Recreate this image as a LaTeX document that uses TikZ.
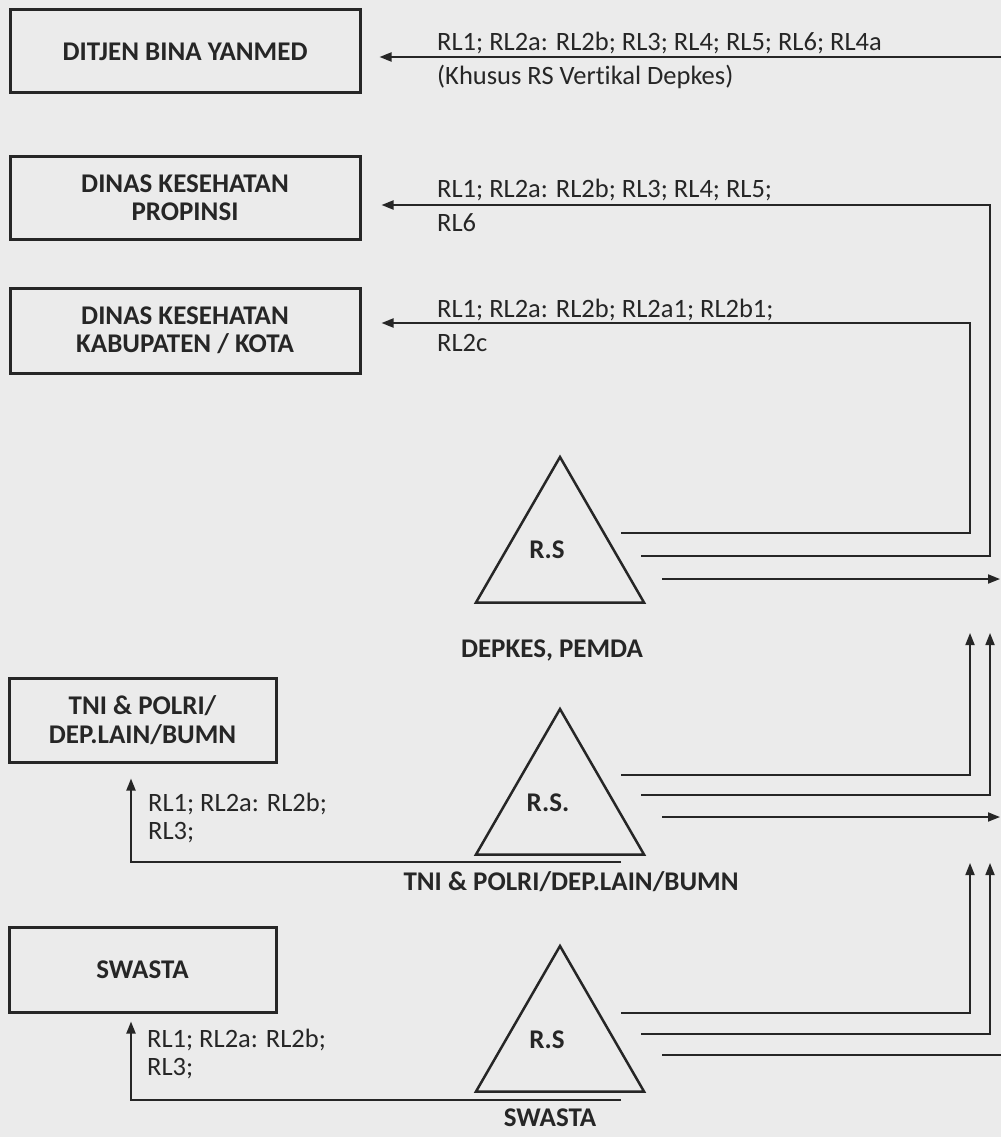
\documentclass[tikz,border=0pt]{standalone}
\usepackage{fontspec}
\setmainfont{Carlito}[Ligatures=NoCommon]
\usetikzlibrary{arrows.meta,shapes.geometric,calc}
\begin{document}
\begin{tikzpicture}[x=1pt,y=-1pt,
  orgbox/.style={draw=black!85, line width=3pt, inner sep=0pt, align=center,
    font=\bfseries\fontsize{27}{28.5}\selectfont, text=black!85},
  rstri/.style={draw=black!85, line width=2.5pt, regular polygon, regular polygon sides=3,
    inner sep=0pt, minimum size=194pt},
  conn/.style={draw=black!85, line width=1.8pt},
  arr/.style={conn, -{Triangle[length=12pt,width=9pt]}},
  rltext/.style={anchor=west, align=left, font=\fontsize{26.5}{34}\selectfont,
    text=black!85, inner sep=0pt},
  rltextb/.style={rltext, font=\fontsize{26.5}{28}\selectfont},
  lbl/.style={font=\bfseries\fontsize{27}{28}\selectfont, text=black!85, inner sep=0pt}
]
\fill[black!8] (0,0) rectangle (1001,1137);
\useasboundingbox (0,0) rectangle (1001,1137);

% boxes
\node[orgbox, minimum width=350pt, minimum height=83pt] (b1) at (185,51.5) {DITJEN BINA YANMED};
\node[orgbox, minimum width=350pt, minimum height=83pt] (b2) at (185,197.5) {DINAS KESEHATAN\\PROPINSI};
\node[orgbox, minimum width=350pt, minimum height=85pt] (b3) at (185,330.5) {DINAS KESEHATAN\\KABUPATEN / KOTA};
\node[orgbox, minimum width=267pt, minimum height=84pt] (b4) at (142.5,720) {TNI \& POLRI/\\DEP.LAIN/BUMN};
\node[orgbox, minimum width=267pt, minimum height=85pt] (b5) at (142.5,969.5) {SWASTA};

% triangles
\node[rstri] (t1) at (560,554) {};
\node[rstri] (t2) at (560,806) {};
\node[rstri] (t3) at (560,1043) {};
\node[lbl] (r1) at (547,550) {R.S};
\node[lbl] (r2) at (548,803) {R.S.};
\node[lbl] (r3) at (547,1040) {R.S};
\node[lbl] (n1) at (552,650) {DEPKES, PEMDA};
\node[lbl] (n2) at (571,882) {TNI \& POLRI/DEP.LAIN/BUMN};
\node[lbl] (n3) at (550,1118) {SWASTA};

% connector end points
\coordinate (e1) at (1001,57);
\coordinate (t1a) at (621,533);
\coordinate (t1b) at (641,556);
\coordinate (t1c) at (662,579);
\coordinate (t2a) at (621,775);
\coordinate (t2b) at (641,795);
\coordinate (t2c) at (662,817);
\coordinate (t2d) at (621,862);
\coordinate (t3a) at (621,1013);
\coordinate (t3b) at (641,1034);
\coordinate (t3c) at (662,1055);
\coordinate (t3d) at (621,1100);

% connectors
\draw[arr] (e1) -- ($(b1.east)+(18,5.5)$);
\draw[arr] (t1b) -- (990,556) |- ($(b2.east)+(20,7.5)$);
\draw[arr] (t1a) -- (970,533) |- ($(b3.east)+(20,-7.5)$);
\draw[arr] (t1c) -- (1000,579);

\draw[arr] (t2a) -- (970,775) -- (970,633);
\draw[arr] (t2b) -- (990,795) -- (990,633);
\draw[arr] (t2c) -- (1000,817);
\draw[arr] (t2d) -| ($(b4.south)+(-11.5,15)$);

\draw[arr] (t3a) -- (970,1013) -- (970,863);
\draw[arr] (t3b) -- (990,1034) -- (990,863);
\draw[conn] (t3c) -- (1001,1055);
\draw[arr] (t3d) -| ($(b5.south)+(-11.5,8)$);

% labels on connectors
\node[rltext] (l1) at (437,60) {RL1; RL2a: RL2b; RL3; RL4; RL5; RL6; RL4a\\(Khusus RS Vertikal Depkes)};
\node[rltext] (l2) at (437,205) {RL1; RL2a: RL2b; RL3; RL4; RL5;\\RL6};
\node[rltext] (l3) at (437,325) {RL1; RL2a: RL2b; RL2a1; RL2b1;\\RL2c};
\node[rltextb] (l4) at (148,818) {RL1; RL2a: RL2b;\\RL3;};
\node[rltextb] (l5) at (147,1054) {RL1; RL2a: RL2b;\\RL3;};
\end{tikzpicture}
\end{document}
